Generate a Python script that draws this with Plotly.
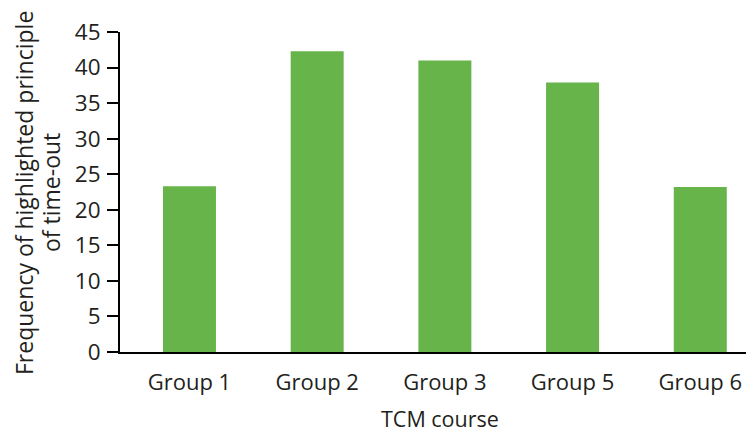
import plotly.graph_objects as go

categories = ["Group 1", "Group 2", "Group 3", "Group 5", "Group 6"]
values = [23.3, 42.3, 41.0, 37.9, 23.2]
y_ticks = [0, 5, 10, 15, 20, 25, 30, 35, 40, 45]
y_title_lines = ["Frequency of highlighted principle", "of time-out"]
x_title = "TCM course"

FONT = "Open Sans"
TXT = "#231f20"

W, H = 746, 432
L, T, B = 120, 32, 80
PX0, PY0 = 120, 352          # page coords of plot left / bottom
PW, PH = 626, 320

fig = go.Figure(go.Bar(
    x=list(range(len(categories))), y=values,
    marker=dict(color="#66b44a", line=dict(width=0)),
    width=0.415,
))

def px(xp):
    return (xp - PX0) / PW

def py(yp):
    return (PY0 - yp) / PH

fig.update_layout(
    width=W, height=H,
    margin=dict(l=L, r=0, t=T, b=B, pad=0),
    paper_bgcolor="white", plot_bgcolor="white",
    font=dict(family=FONT, size=18, color=TXT),
    showlegend=False,
    xaxis=dict(
        range=[-0.544, 4.358],
        tickmode="array", tickvals=list(range(len(categories))), ticktext=categories,
        showline=True, linecolor="black", linewidth=2,
        ticks="", showgrid=False, zeroline=False,
        ticklabelstandoff=10,
        tickfont=dict(size=22, color=TXT, family=FONT),
    ),
    yaxis=dict(
        range=[0, 45],
        tickmode="array", tickvals=y_ticks,
        showline=True, linecolor="black", linewidth=2,
        ticks="outside", ticklen=11, tickwidth=2, tickcolor="black",
        showgrid=False, zeroline=False,
        ticklabelstandoff=2,
        tickfont=dict(size=22.5, color=TXT, family=FONT),
    ),
    annotations=[
        dict(text=y_title_lines[0], xref="paper", yref="paper",
             x=px(24), y=py(193), xanchor="center", yanchor="middle",
             textangle=-90, showarrow=False,
             font=dict(size=23, color=TXT, family=FONT)),
        dict(text=y_title_lines[1], xref="paper", yref="paper",
             x=px(51), y=py(193), xanchor="center", yanchor="middle",
             textangle=-90, showarrow=False,
             font=dict(size=23, color=TXT, family=FONT)),
        dict(text=x_title, xref="paper", yref="paper",
             x=px(440), y=py(418), xanchor="center", yanchor="middle",
             showarrow=False,
             font=dict(size=21.5, color=TXT, family=FONT)),
    ],
)

fig.write_html(
    "out.html",
    config={"displayModeBar": False, "staticPlot": True},
    post_script="document.body.style.margin='0';document.body.style.overflow='hidden';",
)
